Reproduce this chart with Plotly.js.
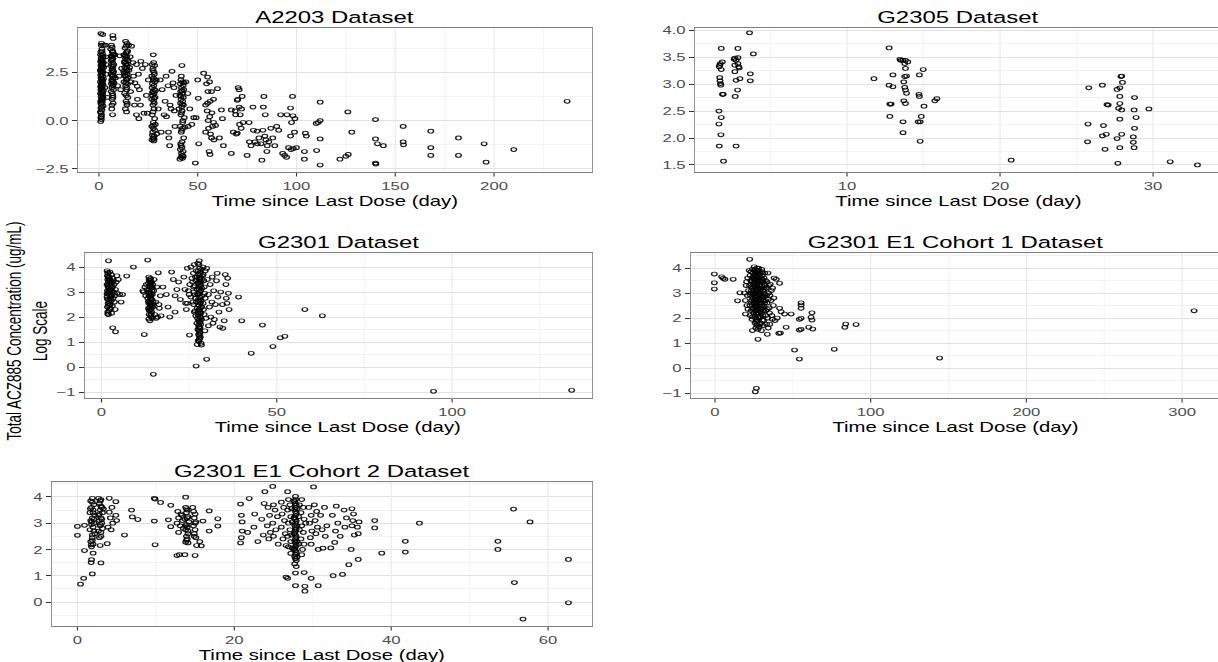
<!DOCTYPE html>
<html>
<head>
<meta charset="utf-8">
<script src="https://cdn.plot.ly/plotly-3.0.1.min.js"></script>
<style>
  html, body { margin: 0; padding: 0; background: #ffffff; overflow: hidden; }
  #chart { transform-origin: 0 0; }
</style>
</head>
<body>
<div id="chart"></div>
<script>
// ACZ885 total concentration (log scale) vs. time since last dose, per study dataset.
// Each sample is [day, log concentration].

const a2203Samples = [
  [1.0,4.5],[1.9,4.45],[1.2,3.9],[2.3,3.9],[0.8,3.4],[1.5,3.35],[2.1,3.3],[1.1,3.2],[1.7,3.15],[0.9,3.05],
  [2.2,3.0],[1.4,2.95],[1.0,2.85],[1.8,2.8],[2.4,2.75],[1.2,2.7],[0.7,2.6],[1.6,2.55],[2.0,2.5],[1.3,2.45],
  [0.9,2.35],[1.9,2.3],[1.1,2.2],[2.3,2.15],[1.5,2.1],[0.8,2.0],[1.7,1.95],[1.2,1.9],[2.1,1.85],[0.9,1.75],
  [1.6,1.7],[1.0,1.6],[2.2,1.55],[1.4,1.5],[0.8,1.4],[1.8,1.35],[1.1,1.25],[2.0,1.2],[1.3,1.1],[0.9,1.0],
  [1.7,0.95],[1.2,0.85],[2.1,0.75],[1.0,0.65],[1.5,0.55],[0.8,0.45],[1.3,0.3],[1.0,0.15],[1.2,0.05],[0.9,-0.05],
  [1.6,2.65],[1.4,3.05],[1.9,1.45],[1.1,0.4],
  [1.3,4.0],[1.5,3.7],[1.0,3.55],[1.8,3.45],[1.2,3.1],[1.6,2.9],[1.0,2.55],[1.4,2.4],[1.8,2.05],[1.1,1.8],
  [1.5,1.65],[1.3,1.35],[1.7,1.15],[1.0,0.9],[1.4,0.7],[1.2,0.2],[1.6,3.6],[2.0,2.95],[1.3,2.15],[1.7,1.05],
  [3.2,3.9],[3.5,3.3],[3.8,2.4],[3.0,1.7],[3.6,2.9],[4.2,1.2],
  [7.0,4.4],[7.2,4.25],[6.3,3.9],[5.9,3.7],[6.8,3.55],[7.4,3.45],[6.5,3.3],[7.1,3.2],[6.2,3.1],[6.9,3.0],
  [7.5,2.9],[6.4,2.8],[7.0,2.7],[6.6,2.6],[7.3,2.5],[6.1,2.4],[6.8,2.3],[7.2,2.2],[6.5,2.1],[6.9,2.0],
  [6.3,1.9],[7.1,1.8],[6.6,1.7],[7.4,1.6],[6.2,1.5],[7.0,1.3],[6.7,1.1],[7.2,0.9],[6.5,0.6],[6.9,0.3],
  [7.3,2.55],[6.4,3.35],[7.6,1.95],[8.0,3.4],[8.3,2.2],
  [6.7,3.8],[7.0,3.4],[6.6,3.15],[7.1,2.85],[6.8,2.6],[7.0,2.35],[6.7,2.05],[7.0,1.85],[6.8,1.4],[7.1,1.2],
  [6.6,0.8],[7.0,3.6],
  [13.5,4.1],[14.2,4.0],[15.0,3.9],[13.2,3.75],[14.5,3.6],[13.8,3.5],[12.6,3.4],[14.1,3.3],[13.4,3.2],[14.8,3.1],
  [12.9,3.0],[13.7,2.9],[14.4,2.85],[13.1,2.75],[14.0,2.7],[15.2,2.6],[13.6,2.5],[12.8,2.45],[14.3,2.4],[13.3,2.3],
  [14.7,2.2],[13.9,2.1],[12.7,2.0],[14.5,1.9],[13.5,1.8],[14.1,1.6],[13.0,1.4],[14.6,1.2],[13.7,1.0],[14.2,0.8],
  [13.4,0.6],[14.0,0.45],[12.5,2.55],[15.5,2.75],[13.0,3.05],[15.8,3.3],[16.2,2.0],
  [13.8,3.85],[14.3,3.55],[13.5,3.35],[14.0,3.15],[13.7,2.95],[14.2,2.6],[13.4,2.35],[14.0,2.15],[13.6,1.95],[14.1,1.7],
  [13.8,1.3],[14.3,0.9],
  [9.5,1.8],[10.2,2.3],[11.0,1.6],[10.5,3.35],[16.5,3.85],[17.2,3.0],[17.5,2.3],[18.2,1.95],[19.0,2.9],[19.5,1.1],
  [20.5,1.6],[21.0,0.8],[21.2,3.07],[22.0,2.7],[20.0,2.4],[19.4,1.77],[19.0,0.3],[20.2,0.1],[22.8,0.38],[24.5,0.38],
  [25.0,2.1],[16.0,1.5],[18.0,0.8],[23.5,2.9],[24.0,1.3],[11.5,2.7],
  [27.5,3.4],[27.0,2.9],[28.2,2.85],[27.3,2.6],[28.0,2.4],[26.8,2.3],[27.6,2.2],[28.3,2.0],[27.1,1.9],[27.8,1.8],
  [26.9,1.7],[28.1,1.6],[27.4,1.5],[27.9,1.4],[27.2,1.3],[28.4,1.2],[26.7,1.1],[27.7,1.0],[28.0,0.9],[27.3,0.8],
  [27.9,0.6],[27.0,0.3],[28.2,0.1],[27.5,-0.1],[26.8,-0.3],[27.6,-0.4],[28.3,-0.5],[27.2,-0.6],[28.0,-0.8],[27.4,-0.9],
  [26.9,-1.0],[27.8,-1.05],[28.5,-0.2],[28.6,1.55],[29.0,2.1],[29.2,-0.7],
  [27.7,3.0],[27.3,2.7],[27.9,2.5],[27.5,2.1],[27.1,1.45],[27.8,1.15],[27.4,0.45],[27.6,-0.25],[27.1,-0.75],[27.9,-0.95],
  [30.0,0.6],[31.0,2.1],[31.5,-0.6],[32.0,1.6],[33.0,0.3],[34.0,2.3],[34.2,0.2],[35.0,1.8],[35.2,-0.6],[35.4,-0.9],
  [36.0,0.8],[35.8,-1.3],[37.0,2.55],[38.0,1.7],[38.2,0.5],[39.0,1.3],[36.5,0.6],[38.5,-0.3],[33.5,1.0],[37.5,1.95],
  [42.0,2.85],[41.5,2.1],[42.3,2.0],[41.2,1.9],[42.6,1.8],[41.8,1.7],[42.9,1.6],[41.4,1.5],[42.2,1.4],[41.0,1.3],
  [42.7,1.2],[41.6,1.1],[42.4,1.0],[41.3,0.9],[42.8,0.8],[41.9,0.7],[42.1,0.5],[41.5,0.3],[42.5,0.0],[41.1,-0.3],
  [42.3,-0.4],[41.7,-0.6],[42.9,-0.9],[41.4,-1.2],[42.0,-1.4],[41.2,-1.5],[42.6,-1.6],[41.8,-1.7],[42.2,-1.8],[41.5,-1.9],
  [41.0,-2.0],[42.7,-1.85],[43.2,0.15],[43.0,1.95],[40.5,0.6],[43.5,-0.35],
  [41.7,2.3],[42.0,1.55],[41.6,1.25],[42.2,0.85],[41.8,0.4],[42.4,-0.1],[41.9,-0.5],[42.1,-1.1],[41.6,-1.3],[42.3,-1.95],
  [44.0,2.0],[45.0,1.4],[46.0,0.6],[45.2,-0.3],[47.0,-0.2],[48.0,0.15],[48.8,-2.2],[49.2,0.15],[50.0,2.1],[50.3,1.15],
  [50.5,-1.2],
  [53.0,2.45],[54.0,-0.6],[55.0,2.25],[55.2,1.5],[55.0,0.9],[54.8,0.5],[55.3,0.0],[55.5,-0.4],[55.8,-1.6],[56.2,-1.75],
  [56.0,2.0],[56.3,1.0],[56.1,0.2],[56.5,-0.7],[57.0,-0.9],[57.0,1.5],[57.2,0.4],[57.5,-0.3],[58.0,-0.1],[58.2,-1.0],
  [58.0,1.1],[54.0,0.8],[54.5,1.9],
  [59.0,-0.25],[60.0,1.65],[61.0,-0.9],[62.0,0.55],[63.0,-1.3],[62.5,0.1],
  [67.0,-1.7],[67.0,0.55],[68.0,-0.6],[69.0,0.5],[69.2,0.3],[70.0,1.05],[70.3,1.1],[70.0,-0.65],[70.5,1.7],[71.0,1.6],
  [71.2,-0.2],[71.0,0.7],[72.0,-0.4],[72.2,0.6],[72.5,1.25],[69.5,-0.7],[71.5,0.3],[73.0,-0.1],
  [75.0,-1.8],[76.0,-0.1],[76.2,-1.1],[77.0,-1.3],[78.0,0.7],[78.2,-0.5],[79.0,-1.1],[80.0,-0.55],[80.2,-1.2],[81.0,-0.9],
  [82.5,-2.05],[82.0,-1.2],[83.5,1.25],[83.0,-0.5],[83.2,0.7],[84.0,-0.8],[84.2,0.3],[84.5,-1.0],[85.0,-1.6],[85.2,-1.3],
  [86.0,-1.1],[87.0,-0.4],
  [88.0,-0.9],[89.0,-1.3],[90.0,-0.3],[91.0,-0.5],[92.0,0.3],[93.0,-1.7],[94.0,-1.8],[95.0,-1.9],[95.2,0.3],[96.0,-1.4],
  [97.0,-0.8],[97.2,-1.5],[97.0,0.65],[98.0,1.25],[98.2,0.25],[98.4,-1.45],[99.0,-0.6],[99.2,0.1],[100.0,-1.4],[97.5,-0.1],
  [104.0,-1.6],[104.0,-2.0],[104.5,-0.65],[105.0,-0.8],[110.0,-0.15],[110.2,-1.55],[111.0,-0.1],[112.0,0.0],[112.0,-0.95],[112.0,0.95],
  [112.0,-2.3],
  [122.0,-2.0],[125.0,-1.85],[126.0,0.45],[126.2,-1.75],[128.0,-0.6],[140.0,0.05],[140.0,-0.95],[140.0,-2.2],[140.2,-2.25],[141.0,-1.2],
  [144.0,-1.3],
  [154.0,-0.3],[154.0,-1.1],[154.2,-1.25],[168.0,-0.55],[168.0,-1.4],[168.0,-1.8],[182.0,-0.9],[182.0,-1.8],[195.0,-1.2],[196.0,-2.15],
  [210.0,-1.5],[237.0,1.0]
];

const g2305Samples = [
  [1.78,3.66],[1.85,3.41],[1.72,3.38],[1.68,3.35],[1.65,3.32],[1.78,3.27],[1.68,3.12],[1.70,3.06],[1.73,3.01],[1.75,2.98],
  [1.91,2.81],[1.86,2.81],[1.63,2.50],[1.78,2.38],[1.63,2.26],[1.76,2.06],[1.65,1.85],[1.93,1.57],
  [2.87,3.66],[2.67,3.48],[2.62,3.46],[2.87,3.49],[2.75,3.44],[2.87,3.38],[2.67,3.35],[2.92,3.32],[2.95,3.30],[2.67,3.23],
  [3.00,3.10],[2.75,3.07],[2.85,2.89],[2.69,2.77],[2.75,1.85],
  [3.63,3.95],[3.88,3.56],[3.68,3.19],[3.68,3.06],
  [11.76,3.10],[12.75,3.67],[12.75,2.98],[13.00,2.95],[13.00,3.17],[12.80,2.63],[12.88,2.63],[12.80,2.40],[13.46,3.46],[13.64,3.44],
  [13.82,3.44],[13.77,3.38],[13.97,3.41],[13.82,3.29],[13.89,3.15],[13.77,3.14],[13.71,3.04],[13.77,2.94],[13.82,2.89],[13.89,2.83],
  [13.71,2.69],[13.82,2.64],[13.66,2.30],[13.66,2.10],[14.73,3.17],[14.98,3.27],[14.70,2.81],[14.73,2.77],[15.03,2.59],[14.65,2.30],
  [14.78,2.30],[14.85,2.40],[14.78,1.94],[15.74,2.69],[15.87,2.73],[13.51,3.44],
  [20.73,1.59],
  [25.80,2.93],[25.75,2.26],[25.72,1.93],[26.69,2.98],[26.76,2.23],[26.69,2.04],[26.94,2.07],[26.86,1.79],[26.99,2.62],[27.07,2.61],
  [27.65,2.90],[27.83,2.93],[27.90,3.14],[27.95,3.15],[28.00,3.03],[27.83,2.77],[27.83,2.64],[27.75,2.55],[27.95,2.52],[27.83,2.35],
  [27.95,2.07],[27.65,1.99],[27.83,1.82],[27.70,1.53],[28.79,2.75],[28.76,2.52],[28.89,2.38],[28.79,2.18],[28.71,2.02],[28.71,1.92],
  [28.76,1.82],[29.73,2.54],
  [31.12,1.56],[32.90,1.50]
];

const g2301Samples = [
  [2.0,4.25],[1.6,3.85],[2.4,3.8],[1.9,3.75],[2.8,3.7],[1.7,3.65],[2.2,3.6],[3.1,3.55],[1.8,3.5],[2.5,3.45],
  [3.4,3.45],[2.0,3.4],[2.9,3.35],[1.6,3.3],[2.3,3.3],[3.6,3.3],[2.7,3.25],[1.9,3.2],[3.2,3.2],[2.1,3.15],
  [2.6,3.1],[1.7,3.05],[3.0,3.05],[2.4,3.0],[3.5,3.0],[1.8,2.95],[2.2,2.9],[2.9,2.85],[1.6,2.8],[2.5,2.8],
  [3.3,2.75],[2.0,2.7],[2.8,2.65],[1.9,2.55],[2.3,2.5],[3.1,2.45],[1.7,2.4],[2.6,2.35],[2.1,2.25],[1.8,2.12],
  [2.0,2.1],[2.9,2.15],[3.8,2.85],[4.2,3.4],[4.5,2.95],[4.0,3.1],[3.7,2.6],[4.8,3.5],[5.2,2.9],[5.6,2.6],
  [6.0,2.9],[3.2,1.57],[4.0,1.41],[7.2,3.64],[9.1,4.0],[4.4,3.65],[3.9,2.3],
  [1.8,3.78],[2.2,3.55],[2.6,3.4],[1.9,3.28],[2.4,3.12],[2.0,2.98],[2.7,2.88],[1.7,2.72],[2.2,2.62],[2.5,2.5],
  [1.9,3.62],[2.3,3.5],[2.8,3.18],[2.1,3.05],[1.6,2.92],[2.6,2.72],[2.0,2.45],[2.4,2.3],[1.8,2.2],[3.0,3.4],
  [13.2,4.28],[12.8,3.3],[12.4,3.2],[13.0,3.1],[11.8,3.05],[12.2,1.3],[14.8,-0.29],[16.2,3.77],[13.5,3.6],[14.0,3.55],
  [13.8,3.45],[14.3,3.4],[13.4,3.35],[14.6,3.3],[13.9,3.25],[14.2,3.15],[13.6,3.1],[14.9,3.05],[13.3,3.0],[14.1,2.95],
  [14.5,2.9],[13.7,2.85],[14.0,2.8],[13.2,2.75],[14.4,2.7],[13.8,2.65],[14.7,2.6],[13.5,2.55],[14.2,2.5],[13.9,2.45],
  [14.6,2.4],[13.4,2.35],[14.1,2.3],[13.7,2.25],[14.3,2.2],[13.6,2.1],[14.0,2.05],[14.5,1.95],[13.8,1.85],[15.2,2.1],
  [15.6,1.95],[16.0,2.0],[15.5,2.6],[16.4,2.5],[16.8,2.85],[15.8,3.2],[16.5,2.35],[17.0,2.05],[15.0,3.5],[12.0,3.0],
  [12.6,2.85],
  [13.6,3.48],[14.1,3.38],[13.8,3.2],[14.4,3.05],[13.5,2.9],[14.0,2.72],[13.9,2.58],[14.3,2.42],[13.6,2.28],[14.2,2.12],
  [13.9,3.52],[14.5,3.18],[13.7,3.0],[14.1,2.88],[13.4,2.62],[14.6,2.52],[13.8,2.38],[14.2,2.0],[13.5,1.92],[14.0,3.32],
  [17.5,3.2],[18.5,2.9],[19.0,2.4],[20.0,3.8],[20.5,3.5],[21.0,2.85],[21.0,2.2],[21.5,3.1],[22.0,3.4],[22.5,2.7],
  [23.5,3.6],[19.5,2.0],[24.0,2.55],[25.1,1.28],
  [27.9,4.25],[27.5,4.15],[26.5,4.1],[25.5,4.0],[24.5,3.95],[28.5,3.9],[27.0,3.85],[28.2,3.8],[26.2,3.75],[27.7,3.7],
  [28.8,3.65],[27.3,3.6],[25.8,3.55],[28.0,3.5],[26.9,3.45],[28.4,3.4],[27.6,3.35],[25.2,3.3],[28.1,3.3],[26.6,3.25],
  [27.8,3.2],[28.6,3.15],[27.2,3.1],[24.8,3.05],[28.3,3.05],[26.4,3.0],[27.9,2.95],[27.4,2.9],[28.7,2.85],[25.5,2.8],
  [28.0,2.8],[26.8,2.75],[27.6,2.7],[28.4,2.65],[27.1,2.6],[24.5,2.55],[28.2,2.55],[26.3,2.5],[27.8,2.45],[28.6,2.4],
  [27.3,2.35],[28.0,2.3],[26.7,2.25],[27.5,2.2],[28.3,2.15],[27.9,2.1],[26.9,2.05],[28.1,2.0],[27.4,1.95],[28.5,1.9],
  [27.7,1.85],[28.0,1.8],[27.2,1.75],[28.3,1.7],[27.8,1.6],[28.1,1.55],[27.5,1.5],[28.0,1.4],[27.7,1.3],[28.2,1.2],
  [27.9,1.1],[27.6,1.05],[28.4,0.95],[27.3,0.9],[28.5,0.88],[27.0,0.04],[30.0,0.31],[26.0,3.4],[25.0,2.9],[29.0,3.7],
  [29.3,3.2],[29.6,2.75],[29.1,2.3],[29.8,1.95],[30.2,3.5],[30.5,2.9],[30.8,2.4],[31.0,3.3],[31.5,2.6],[31.2,2.0],
  [31.8,1.75],[32.0,3.05],[32.5,2.5],[32.2,1.9],[33.0,3.75],[33.2,2.8],[33.5,2.2],[33.8,1.6],[34.0,3.0],[34.5,2.5],
  [35.0,1.85],[35.3,3.7],[35.5,3.3],[35.6,2.75],[35.8,2.55],[36.0,3.55],[36.2,2.95],[36.4,2.3],[34.6,1.55],[30.5,1.65],
  [29.5,1.45],[23.8,3.1],[24.2,2.3],[30.0,3.95],[29.0,4.0],[32.8,3.45],[31.6,3.6],
  [27.8,4.1],[28.0,3.95],[27.6,3.85],[28.2,3.72],[27.9,3.58],[28.1,3.45],[27.7,3.38],[28.3,3.25],[27.8,3.12],[28.0,3.0],
  [27.6,2.92],[28.2,2.78],[27.9,2.68],[28.1,2.58],[27.7,2.48],[28.3,2.38],[27.8,2.28],[28.0,2.18],[27.6,2.08],[28.2,1.98],
  [27.9,1.88],[28.1,1.78],[27.7,1.68],[28.0,1.58],[27.8,1.45],[28.1,1.35],[27.9,1.25],[28.0,1.15],[27.8,1.02],[28.2,3.55],
  [26.3,3.2],[26.6,2.9],[26.1,2.6],[26.8,3.6],[29.2,3.45],[29.4,2.95],[29.0,2.55],[29.3,2.1],[26.5,2.2],[29.6,3.85],
  [39.1,2.8],[40.0,1.85],[42.7,0.55],[45.9,1.68],[48.9,0.82],[51.0,1.17],[52.3,1.23],[58.0,2.3],[63.0,2.05],[94.7,-0.97],
  [134.1,-0.93]
];

const cohort1Samples = [
  [-0.4,3.76],[-0.4,3.41],[-0.4,3.16],[4.3,3.65],[5.3,3.59],[6.4,3.55],[11.7,3.55],[14.5,2.69],[16.0,3.01],[22.3,4.35],
  [19.6,2.16],[19.0,3.0],[20.0,3.3],[20.5,2.5],[21.0,3.6],[20.8,2.9],[19.5,2.7],[21.2,2.35],[20.3,3.45],[21.5,3.1],
  [22.0,3.9],[22.5,3.7],[23.0,3.5],[22.2,3.3],[23.4,3.1],[22.8,2.9],[23.6,2.7],[22.4,2.5],[23.2,2.3],[22.7,2.1],
  [23.8,1.95],[24.0,3.95],[24.3,3.8],[23.9,3.6],[24.5,3.4],[24.1,3.2],[24.6,3.0],[24.2,2.8],[24.8,2.6],[24.4,2.4],
  [24.9,2.2],[24.0,1.5],
  [25.2,4.05],[25.5,3.9],[25.8,3.75],[25.3,3.55],[26.0,3.45],[25.6,3.3],[26.2,3.15],[25.4,3.0],[26.4,2.9],[25.7,2.75],
  [26.6,2.6],[25.9,2.45],[26.3,2.3],[26.8,2.15],[26.1,2.0],[26.5,1.85],[26.9,1.7],[26.2,1.6],[27.0,4.0],[27.2,3.85],
  [26.7,3.65],[27.4,3.5],[27.0,3.35],[27.6,3.2],[26.9,3.05],[27.3,2.85],[27.8,2.7],[27.1,2.5],[27.5,2.35],[27.9,2.2],
  [27.2,1.9],[27.6,1.55],[27.6,1.15],
  [28.0,4.0],[28.3,3.9],[28.6,3.75],[28.1,3.6],[28.8,3.45],[28.4,3.3],[29.0,3.15],[28.2,3.0],[29.2,2.85],[28.7,2.7],
  [29.4,2.55],[28.5,2.4],[29.1,2.25],[28.9,2.05],[29.5,1.8],[28.3,1.65],[29.8,1.5],[30.0,3.95],[30.3,3.7],[30.6,3.5],
  [30.1,3.3],[30.8,3.1],[30.4,2.9],[31.0,2.7],[30.2,2.5],[31.2,2.3],[30.7,2.1],[31.4,1.9],[30.9,1.7],[31.5,3.6],
  [31.8,3.35],[31.3,3.0],
  [23.1,3.85],[23.5,3.25],[23.3,2.6],[22.9,3.0],[23.7,3.45],[24.7,3.65],[24.5,2.95],[24.3,2.35],[24.1,2.05],[24.9,3.3],
  [25.1,3.7],[25.4,3.4],[25.2,3.1],[25.6,2.85],[25.3,2.55],[25.8,2.3],[25.5,2.1],[25.7,1.8],[25.9,3.95],[25.0,2.7],
  [26.1,3.85],[26.3,3.55],[26.0,3.25],[26.4,3.05],[26.2,2.75],[26.5,2.45],[26.7,2.2],[26.6,1.95],[26.8,3.9],[26.1,2.6],
  [27.0,3.7],[27.3,3.4],[27.1,3.1],[27.5,2.95],[27.2,2.65],[27.4,2.4],[27.7,2.05],[27.0,1.75],[27.8,3.55],[27.5,3.8],
  [28.0,3.5],[28.2,3.2],[28.4,2.9],[28.1,2.6],[28.6,2.3],[28.3,2.0],[28.8,1.75],[28.5,3.65],[28.9,2.95],[28.7,3.35],
  [29.0,3.8],[29.3,3.5],[29.1,2.7],[29.5,2.4],[29.2,2.05],[29.6,3.2],[29.8,2.75],[29.4,3.0],[29.7,2.2],[29.9,3.6],
  [30.2,3.85],[30.5,3.2],[30.3,2.8],[30.7,2.4],[30.5,1.9],[31.0,3.45],[31.2,2.85],[31.4,2.5],[31.7,3.15],[31.9,2.6],
  [32.1,3.3],[32.4,2.7],[32.6,2.1],[33.1,2.9],[33.4,3.45],[33.7,2.35],[34.3,2.75],[34.6,3.3],[35.3,2.9],[36.2,3.1],
  [32.0,3.8],[32.5,3.5],[33.0,3.2],[32.3,2.95],[33.5,2.6],[32.8,2.3],[33.8,2.0],[33.2,1.75],[34.0,3.8],[34.5,3.0],
  [34.8,2.4],[35.0,2.2],[35.5,3.35],[36.0,2.7],[36.5,2.1],[37.0,3.2],[37.5,2.5],[35.2,1.75],[34.2,1.6],[36.8,1.95],
  [38.0,3.6],[37.8,2.8],[33.6,1.35],
  [39.4,3.55],[41.5,3.39],[41.5,2.39],[42.5,2.25],[44.7,2.16],[48.9,2.16],[45.7,1.63],[41.0,1.39],[40.0,2.0],[42.0,1.4],
  [38.5,1.9],
  [55.3,2.61],[55.3,2.52],[55.3,2.39],[62.3,2.21],[61.7,2.03],[62.3,1.92],[54.2,1.95],[55.3,1.99],[54.2,1.52],[55.3,1.55],
  [60.2,1.63],[62.8,1.56],[51.1,0.72],[54.2,0.36],[76.6,0.75],[84.0,1.76],[83.4,1.63],[90.6,1.74],[144.3,0.4],[307.7,2.29],
  [26.6,-0.81],[25.9,-0.95]
];

const cohort2Samples = [
  [0.0,2.88],[0.0,2.54],[0.4,0.68],[0.8,0.9],[0.9,1.96],[0.9,2.92],
  [1.9,3.95],[1.7,3.85],[2.1,3.7],[1.8,3.6],[2.0,3.5],[1.6,3.4],[2.2,3.3],[1.9,3.2],[1.7,3.1],[2.1,3.0],
  [1.8,2.95],[2.0,2.85],[1.6,2.75],[2.2,2.6],[1.9,2.45],[1.7,2.3],[2.0,2.2],[1.76,2.18],[1.9,2.35],[2.0,1.86],
  [1.8,1.61],[1.75,1.5],[1.9,1.07],[2.1,3.15],[1.65,3.55],
  [1.9,3.8],[2.0,3.4],[1.8,3.05],[2.1,2.7],[1.9,2.55],[1.8,2.1],
  [2.7,3.95],[3.0,3.9],[2.8,3.75],[3.1,3.6],[2.9,3.5],[3.2,3.4],[2.7,3.3],[3.0,3.2],[2.8,3.1],[3.1,3.0],
  [2.9,2.9],[3.2,2.8],[2.7,2.7],[3.0,2.5],[2.9,2.15],[3.0,1.49],[2.8,2.45],[3.3,3.55],
  [2.9,3.85],[3.0,3.65],[2.8,3.35],[3.1,3.15],[2.9,2.95],[3.0,2.65],
  [4.06,3.95],[4.06,3.42],[3.8,2.22],[4.3,2.75],[4.2,3.2],[4.5,3.0],[4.9,3.82],[4.9,3.3],[5.0,3.1],[3.9,2.85],
  [4.4,3.6],
  [6.0,2.55],[6.9,3.5],[7.0,3.24],[7.7,3.14],
  [9.8,3.08],[9.8,3.95],[9.9,3.92],[9.9,2.18],[10.6,3.79],[11.9,3.68],[11.6,3.13],[11.9,2.87],
  [13.8,3.99],[12.7,1.77],[13.0,1.8],[13.7,1.8],[15.0,1.77],[12.8,3.45],[13.2,3.35],[12.9,3.2],[13.4,3.1],[12.7,3.0],
  [13.1,2.9],[13.5,2.8],[12.9,2.65],[13.3,3.3],[13.8,3.6],[14.0,3.5],[13.9,3.4],[14.1,3.25],[13.7,3.15],[14.2,3.05],
  [13.9,2.95],[14.0,2.85],[13.8,2.75],[14.1,2.6],[13.9,2.5],[14.0,2.4],[13.8,2.28],[14.1,2.25],[14.8,3.45],[15.0,3.35],
  [14.9,3.2],[15.1,3.05],[14.8,2.9],[15.0,2.75],[14.9,2.6],[15.1,2.45],[14.7,3.6],[15.6,2.3],[15.8,2.14],[16.0,3.08],
  [16.8,3.47],[16.8,2.7],[17.9,3.17],[17.9,2.89],[15.2,2.15],
  [13.9,3.55],[14.0,3.2],[13.8,2.9],[14.1,2.7],[13.9,2.35],[15.0,3.0],[14.9,2.5],
  [20.8,2.25],[20.8,3.73],[20.9,3.3],[21.0,2.7],[20.9,2.45],[21.0,3.05],[21.9,3.94],[21.7,2.65],[22.5,2.85],[22.6,3.35],
  [23.0,2.3],[23.9,4.2],[23.5,3.15],[23.7,2.55],[23.8,3.75],[24.3,3.6],[24.5,3.3],[24.2,2.9],[24.6,2.65],[24.4,2.4],
  [24.9,4.4],[25.0,3.7],[25.2,3.5],[24.9,3.0],[25.3,2.75],[25.0,2.5],[25.5,3.25],[25.6,2.2],
  [26.0,3.8],[26.3,3.6],[26.1,3.35],[26.4,3.1],[26.0,2.85],[26.5,2.6],[26.2,2.4],[26.6,2.15],[26.8,4.2],[26.9,3.9],
  [27.1,3.7],[26.8,3.5],[27.2,3.25],[26.9,3.0],[27.1,2.75],[26.8,2.5],[27.2,2.3],[26.9,2.1],[26.8,0.9],[26.6,0.95],
  [27.8,4.02],[27.8,3.9],[27.8,3.75],[27.8,3.6],[27.8,3.45],[27.8,3.3],[27.8,3.15],[27.8,3.0],[27.8,2.85],[27.8,2.7],
  [27.8,2.55],[27.8,2.4],[27.8,2.25],[27.8,2.1],[27.8,1.95],[27.8,1.8],[27.8,1.65],[27.7,1.45],[27.9,1.35],[27.8,1.1],
  [27.8,0.62],[27.6,3.85],[28.0,3.55],[27.6,3.2],[28.0,2.9],[27.6,2.6],[28.0,2.3],[27.6,2.0],[28.0,1.7],
  [27.7,3.82],[27.9,3.68],[27.7,3.52],[27.9,3.38],[27.7,3.22],[27.9,3.08],[27.7,2.92],[27.9,2.78],[27.7,2.62],[27.9,2.48],
  [27.7,2.32],[27.9,2.18],[27.7,2.02],[27.9,1.88],[27.7,1.72],[27.9,1.58],[28.3,3.7],[28.2,3.25],[28.3,2.75],[28.2,2.2],
  [27.3,3.55],[27.4,3.05],[27.3,2.55],[27.4,2.05],[27.2,1.85],
  [28.6,3.9],[28.8,3.6],[28.5,3.4],[28.9,3.15],[28.6,2.9],[28.8,2.65],[28.5,2.4],[28.9,2.2],[28.7,2.0],[28.6,1.8],
  [28.9,1.12],[29.0,0.6],[29.0,0.41],[29.1,3.0],
  [29.5,3.6],[29.8,3.3],[29.6,3.0],[29.9,2.7],[29.7,2.45],[29.8,2.2],[29.8,0.9],[30.1,4.38],[30.2,3.7],[30.5,3.45],
  [30.3,3.1],[30.6,2.85],[30.4,2.6],[30.7,2.0],[30.7,0.62],[31.0,3.3],[31.2,2.75],[31.3,2.05],[31.5,3.6],[31.8,2.9],
  [31.6,2.5],
  [32.3,2.06],[32.8,2.27],[32.6,1.0],[33.0,3.65],[32.5,3.3],[33.2,3.0],[32.9,2.7],[33.5,2.5],[33.8,1.05],[34.0,3.5],
  [34.3,3.2],[34.1,2.85],[34.6,1.42],[34.9,2.0],[35.0,3.55],[35.2,3.35],[35.1,3.1],[35.0,2.9],[35.3,2.55],[35.8,1.62],
  [35.8,2.6],[35.9,3.05],[35.7,2.85],
  [37.9,3.1],[37.9,2.82],[38.8,1.86],[41.8,2.31],[41.8,1.9],[43.6,3.0],[53.6,2.31],[53.6,2.0],[55.6,3.54],[55.7,0.74],
  [56.8,-0.65],[57.7,3.05],[62.6,1.62],[62.6,-0.03]
];

const panelTitles = ['A2203 Dataset', 'G2305 Dataset', 'G2301 Dataset', 'G2301 E1 Cohort 1 Dataset', 'G2301 E1 Cohort 2 Dataset'];
const xAxisTitle = 'Time since Last Dose (day)';
const yAxisTitle = 'Total ACZ885 Concentration (ug/mL)<br>Log Scale';

// ---- layout geometry ----
// The figure is drawn narrow and stretched horizontally, giving wide glyphs and markers.
const STRETCH = 1.45;
const BASE_W = 845;
const H = 662;
const FULL_W = BASE_W * STRETCH;
const fx = px => px / FULL_W;
const fy = py => 1 - py / H;
const THIN = 1 / STRETCH;   // vertical strokes become 1px after the stretch

const FONT = 'Liberation Sans, Arial, Helvetica, sans-serif';

const panels = [
  { data: a2203Samples,   box: [78, 28, 592, 172],   xr: [-10.6, 249.6], yr: [-2.66, 4.79], xd: 50,  yd: 2.5, yfmt: '.1f' },
  { data: g2305Samples,   box: [695, 28, 1221, 172], xr: [0.065, 34.44], yr: [1.37, 4.04],  xd: 10,  yd: 0.5, yfmt: '.1f' },
  { data: g2301Samples,   box: [85, 253, 592, 398],  xr: [-4.7, 139.9],  yr: [-1.24, 4.56], xd: 50,  yd: 1,   yfmt: 'd' },
  { data: cohort1Samples, box: [691, 253, 1221, 398],xr: [-15.4, 325],   yr: [-1.2, 4.6],   xd: 100, yd: 1,   yfmt: 'd' },
  { data: cohort2Samples, box: [52, 482, 592, 626],  xr: [-3.24, 65.6],  yr: [-0.914, 4.57],xd: 20,  yd: 1,   yfmt: 'd' }
];

const traces = [];
const layout = {
  width: BASE_W,
  height: H,
  margin: { l: 0, r: 0, t: 0, b: 0 },
  paper_bgcolor: '#ffffff',
  plot_bgcolor: '#ffffff',
  showlegend: false,
  font: { family: FONT, color: '#000000' },
  annotations: []
};

function axisStyle(extra) {
  return Object.assign({
    tickmode: 'linear',
    tick0: 0,
    ticks: 'outside',
    ticklen: 3.5,
    tickcolor: '#333333',
    showline: true,
    mirror: true,
    linecolor: '#7f7f7f',
    showgrid: true,
    gridcolor: '#e2e2e2',
    zeroline: false,
    fixedrange: true,
    automargin: false,
    tickfont: { family: FONT, size: 11.5, color: '#4d4d4d' }
  }, extra);
}

panels.forEach((p, i) => {
  const n = i === 0 ? '' : String(i + 1);
  const [x0, y0, x1, y1] = p.box;

  traces.push({
    type: 'scatter',
    mode: 'markers',
    x: p.data.map(d => d[0]),
    y: p.data.map(d => d[1]),
    xaxis: 'x' + n,
    yaxis: 'y' + n,
    hoverinfo: 'skip',
    marker: {
      symbol: 'circle-open',
      size: 3.8,
      color: 'rgba(0,0,0,0.9)',
      line: { width: 0.95, color: 'rgba(0,0,0,0.9)' }
    }
  });

  // x axis: its grid lines and ticks are vertical strokes, its border lines horizontal
  layout['xaxis' + n] = axisStyle({
    domain: [fx(x0), fx(x1)],
    range: p.xr,
    dtick: p.xd,
    anchor: 'y' + n,
    gridwidth: THIN,
    tickwidth: THIN * 1.1,
    linewidth: 1,
    minor: { dtick: p.xd / 2, tick0: 0, showgrid: true, gridcolor: '#f2f2f2', gridwidth: THIN, ticks: '' }
  });
  // y axis: horizontal grid lines and ticks, vertical border lines
  layout['yaxis' + n] = axisStyle({
    domain: [fy(y1), fy(y0)],
    range: p.yr,
    dtick: p.yd,
    tickformat: p.yfmt,
    anchor: 'x' + n,
    gridwidth: 1,
    tickwidth: 1,
    linewidth: THIN,
    minor: { dtick: p.yd / 2, tick0: 0, showgrid: true, gridcolor: '#f2f2f2', gridwidth: 1, ticks: '' }
  });

  // panel title above the box
  layout.annotations.push({
    text: panelTitles[i],
    xref: 'x' + n + ' domain', yref: 'y' + n + ' domain',
    x: 0.5, y: 1, xanchor: 'center', yanchor: 'middle', yshift: 11,
    showarrow: false,
    font: { family: FONT, size: 16.5, color: '#000000' }
  });
  // x-axis title below the tick labels
  layout.annotations.push({
    text: xAxisTitle,
    xref: 'x' + n + ' domain', yref: 'y' + n + ' domain',
    x: 0.5, y: 0, xanchor: 'center', yanchor: 'middle', yshift: -28.5,
    showarrow: false,
    font: { family: FONT, size: 14, color: '#000000' }
  });
});

// shared y-axis title on the left
layout.annotations.push({
  text: yAxisTitle,
  xref: 'paper', yref: 'paper',
  x: fx(27), y: fy(331), xanchor: 'center', yanchor: 'middle',
  textangle: -90,
  showarrow: false,
  font: { family: FONT, size: 13.5, color: '#000000' }
});

const el = document.getElementById('chart');
el.style.width = BASE_W + 'px';
el.style.height = H + 'px';
el.style.transform = 'scaleX(' + STRETCH + ')';

Plotly.newPlot(el, traces, layout, { staticPlot: true, displayModeBar: false, responsive: false });
</script>
</body>
</html>
